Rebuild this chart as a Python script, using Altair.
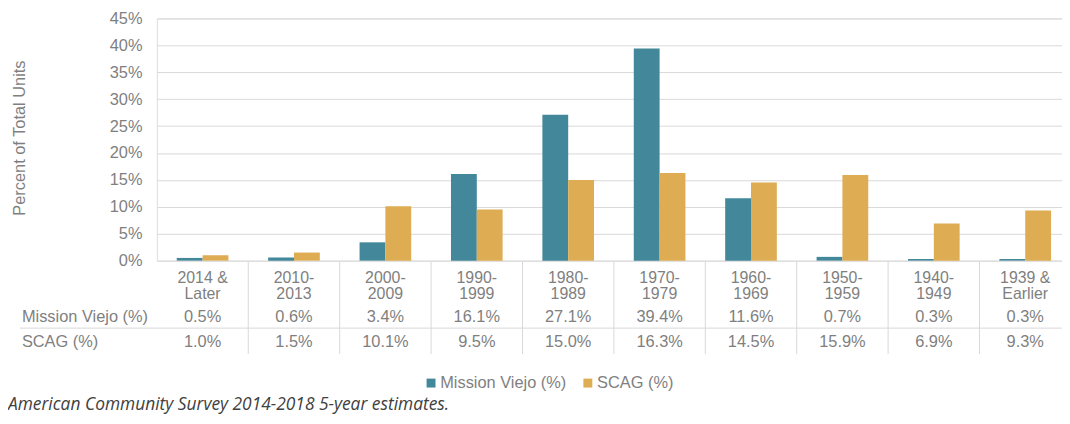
import altair as alt
import pandas as pd

# ---------------- data ----------------
categories = ["2014 &|Later", "2010-|2013", "2000-|2009", "1990-|1999", "1980-|1989",
              "1970-|1979", "1960-|1969", "1950-|1959", "1940-|1949", "1939 &|Earlier"]
mission_viejo = [0.5, 0.6, 3.4, 16.1, 27.1, 39.4, 11.6, 0.7, 0.3, 0.3]
scag = [1.0, 1.5, 10.1, 9.5, 15.0, 16.3, 14.5, 15.9, 6.9, 9.3]
series_names = ["Mission Viejo (%)", "SCAG (%)"]
colors = ["#42879A", "#DEAC52"]
y_ticks = [0, 0.05, 0.10, 0.15, 0.20, 0.25, 0.30, 0.35, 0.40, 0.45]
y_title = "Percent of Total Units"
footnote = "American Community Survey 2014-2018 5-year estimates."

rows = []
for c, mv, sc in zip(categories, mission_viejo, scag):
    rows.append({"category": c, "series": series_names[0], "value": mv / 100})
    rows.append({"category": c, "series": series_names[1], "value": sc / 100})
df = pd.DataFrame(rows)

# ---------------- layout ----------------
W = 912          # visible plot width
X_RANGE = 921    # full band range (the last band runs slightly off the page edge)
H = 244
GRAY = "#7f7f7f"
FONT = "Liberation Sans"
FS = 16.5

x_scale = alt.Scale(domain=categories, range=[0, X_RANGE], paddingInner=0, paddingOuter=0)

base = alt.Chart(df)

bars = base.mark_bar().encode(
    x=alt.X("category:N", scale=x_scale, sort=categories,
            axis=alt.Axis(title=None, labelExpr="split(datum.label, '|')", labelAngle=0,
                          labelFontSize=16, labelColor=GRAY, labelPadding=9,
                          labelLineHeight=16, domain=False, ticks=False, grid=False,
                          labelFont=FONT)),
    xOffset=alt.XOffset("series:N", sort=series_names,
                        scale=alt.Scale(domain=series_names, paddingInner=0, paddingOuter=0.77)),
    y=alt.Y("value:Q", scale=alt.Scale(domain=[0, 0.45], nice=False),
            axis=alt.Axis(values=y_ticks, format=".0%", title=y_title, grid=True,
                          gridColor="#d9d9d9", gridWidth=1, domain=False, ticks=False,
                          labelPadding=15, labelFontSize=FS, labelColor=GRAY, labelFont=FONT,
                          titleFontSize=16.5, titleFontWeight="normal", titleColor=GRAY,
                          titleFont=FONT, titleX=-138, titleY=120,
                          titleBaseline="middle", titleAlign="center", titleAngle=270)),
    color=alt.Color("series:N", sort=series_names,
                    scale=alt.Scale(domain=series_names, range=colors),
                    legend=alt.Legend(orient="none", legendX=268, legendY=359,
                                      direction="horizontal", title=None,
                                      symbolType="square", symbolSize=81,
                                      symbolStrokeWidth=0, labelFontSize=FS,
                                      labelColor=GRAY, labelFont=FONT, labelOffset=1,
                                      columnPadding=13)),
)

# vertical separators in the table area
sep_df = pd.DataFrame({"category": categories[1:]})
separators = alt.Chart(sep_df).mark_rule(color="#d9d9d9", strokeWidth=1).encode(
    x=alt.X("category:N", scale=x_scale, bandPosition=0),
    y=alt.value(H + 1),
    y2=alt.value(H + 94),
)

# horizontal line between the table rows
hline = alt.Chart(pd.DataFrame({"a": [0]})).mark_rule(color="#d9d9d9", strokeWidth=1).encode(
    x=alt.value(-138), x2=alt.value(W), y=alt.value(H + 68),
)

row_y = [H + 57, H + 82]
layers = [bars, separators, hline]
for name, ry in zip(series_names, row_y):
    layers.append(
        base.transform_filter(alt.datum.series == name).mark_text(
            fontSize=FS, color=GRAY, font=FONT, baseline="middle", align="center"
        ).encode(
            x=alt.X("category:N", scale=x_scale),
            y=alt.value(ry),
            text=alt.Text("value:Q", format=".1%"),
        )
    )
    layers.append(
        alt.Chart(pd.DataFrame({"label": [name]})).mark_text(
            fontSize=FS, color=GRAY, font=FONT, baseline="middle", align="left"
        ).encode(x=alt.value(-136), y=alt.value(ry), text="label:N")
    )

note = alt.Chart(pd.DataFrame({"t": [footnote]})).mark_text(
    fontSize=17.5, color="#404040", font="Open Sans", fontStyle="italic",
    baseline="alphabetic", align="left"
).encode(x=alt.value(-150), y=alt.value(H + 150), text="t:N")
layers.append(note)

chart = alt.layer(*layers).properties(
    width=W, height=H,
    autosize=alt.AutoSizeParams(type="none"),
    padding={"left": 150, "top": 9, "right": 0, "bottom": 155},
).configure_view(stroke=None).configure(font=FONT)

chart.save("out.html", embed_options={"renderer": "svg", "actions": False})
